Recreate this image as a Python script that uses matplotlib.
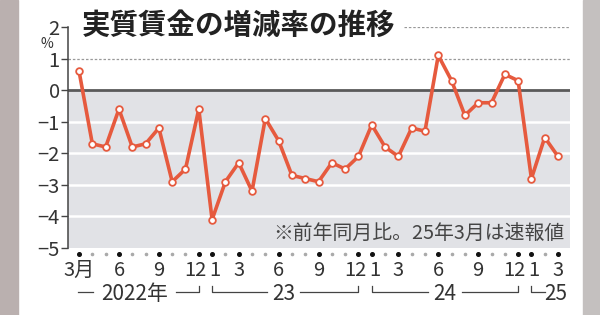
import matplotlib
matplotlib.use("Agg")
import matplotlib.pyplot as plt
from matplotlib.patches import Rectangle

plt.rcParams['font.family'] = ['Noto Sans CJK JP', 'DejaVu Sans']
plt.rcParams['axes.unicode_minus'] = True

# 実質賃金の前年同月比 (%), 2022年3月〜2025年3月
years = [2022] * 10 + [2023] * 12 + [2024] * 12 + [2025] * 3
months = [3, 4, 5, 6, 7, 8, 9, 10, 11, 12,
          1, 2, 3, 4, 5, 6, 7, 8, 9, 10, 11, 12,
          1, 2, 3, 4, 5, 6, 7, 8, 9, 10, 11, 12,
          1, 2, 3]
values = [0.6, -1.7, -1.8, -0.6, -1.8, -1.7, -1.2, -2.9, -2.5, -0.6,
          -4.1, -2.9, -2.3, -3.2, -0.9, -1.6, -2.7, -2.8, -2.9, -2.3, -2.5, -2.1,
          -1.1, -1.8, -2.1, -1.2, -1.3, 1.1, 0.3, -0.8, -0.4, -0.4, 0.5, 0.3,
          -2.8, -1.5, -2.1]
year_labels = ['2022年', '23', '24', '25']
yticks = [2, 1, 0, -1, -2, -3, -4, -5]

num_font = ['Liberation Sans Narrow', 'Noto Sans CJK JP']
red = '#e65a3e'

fig = plt.figure(figsize=(6, 3.15), dpi=100)
fig.patches.append(Rectangle((0, 0), 18 / 600, 1, transform=fig.transFigure,
                             color='#bab0af', zorder=-1))
fig.patches.append(Rectangle((583 / 600, 0), 17 / 600, 1, transform=fig.transFigure,
                             color='#c4c0bf', zorder=-1))

ax = fig.add_axes([68 / 600, 1 - 248 / 315, 502 / 600, 221 / 315])
x = list(range(len(values)))
xmin, xmax = -0.83, 36.9
ax.set_xlim(xmin, xmax)
ax.set_ylim(-5, 2)

# 背景: 0以下は灰色, 白の補助線
ax.axhspan(-5, 0, color='#e1e2e6', zorder=0)
for g in [-1, -2, -3, -4]:
    ax.axhline(g, color='white', lw=1.8, zorder=1)
ax.axhline(0, color='#5a5a5a', lw=2, zorder=2)
ax.axhline(1, color='#999999', lw=0.9, ls=(0, (2, 1.5)), zorder=1)
ax.plot([24.4, xmax], [2, 2], color='#999999', lw=0.9, ls=(0, (2, 1.5)), zorder=1)

ax.plot(x, values, color=red, lw=2.6, zorder=3,
        marker='o', markersize=4.8, markerfacecolor='white',
        markeredgecolor=red, markeredgewidth=1.3)

for s in ['top', 'right', 'bottom']:
    ax.spines[s].set_visible(False)
ax.spines['left'].set_color('#444444')
ax.spines['left'].set_linewidth(1.1)
ax.set_yticks(yticks)
ax.set_yticklabels([str(v).replace('-', '\u2212') for v in yticks],
                   family=num_font, fontsize=14.5, color='#333333')
ax.tick_params(axis='y', length=5, width=1, color='#444444', pad=1)
ax.set_xticks([])

ax.text(-2.45, 1.47, '%', family=num_font, fontsize=10, color='#333333',
        ha='center', va='center', clip_on=False)

# 月の点と目盛りラベル
tx = ax.get_xaxis_transform()
for i, m in enumerate(months):
    if m in (1, 3, 6, 9, 12):
        ax.plot(i, -0.027, 'o', color='#111111', markersize=2.6, transform=tx, clip_on=False)
        lab = '3月' if i == 0 else str(m)
        dx = -0.25 if m == 12 else (0.2 if m == 1 else 0)
        ax.text(i + dx, -0.10, lab, transform=tx, family=num_font, fontsize=14.5,
                color='#333333', ha='center', va='center')
    else:
        ax.plot(i, -0.027, 'o', color='#aaaaaa', markersize=1.6, transform=tx, clip_on=False)

# 年のブラケット
by = -0.199
bt = -0.172
lk = dict(color='#444444', lw=0.9, transform=tx, clip_on=False)
ax.plot([-0.1, 1.05], [by, by], **lk)
ax.plot([7.3, 9, 9], [by, by, bt], **lk)
ax.plot([10, 10, 14.1], [bt, by, by], **lk)
ax.plot([16.6, 21, 21], [by, by, bt], **lk)
ax.plot([22, 22, 26.2], [bt, by, by], **lk)
ax.plot([28.8, 33, 33], [by, by, bt], **lk)
ax.plot([34, 34, 35.0], [bt, by, by], **lk)
for xc, lab in zip([4.2, 15.35, 27.5, 35.8], year_labels):
    ax.text(xc, -0.21, lab, transform=tx, family=num_font, fontsize=15,
            color='#333333', ha='center', va='center')

ax.text(36.5, -4.55, '※前年同月比。25年3月は速報値', family=num_font,
        fontsize=14.3, color='#444444', ha='right', va='center', zorder=4)

fig.text(82 / 600, 1 - 26 / 315, '実質賃金の増減率の推移', fontsize=20.5,
         fontweight='bold', color='#222222', ha='left', va='center')

fig.savefig('out.png', dpi=100)
